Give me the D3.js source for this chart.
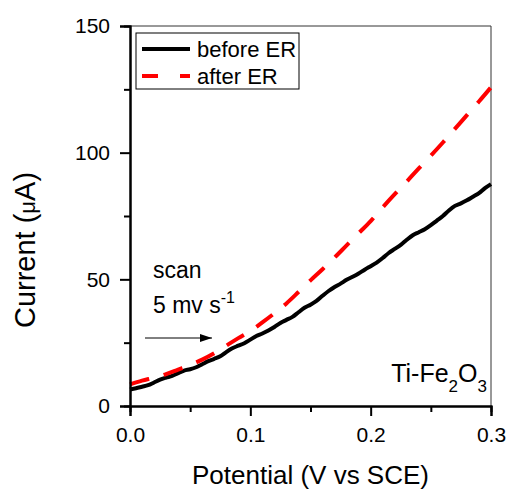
<!DOCTYPE html>
<html lang="en">
<head>
    <meta charset="UTF-8">
    <title>Current vs Potential</title>
    <script src="https://d3js.org/d3.v7.min.js"></script>
    <style>
        body {
            margin: 0;
            padding: 0;
            background-color: #fff;
            overflow: hidden;
        }
        svg text {
            font-family: 'Liberation Sans', Arial, Helvetica, sans-serif;
            fill: #000;
        }
        .tick text {
            font-size: 21px;
        }
    </style>
</head>
<body>
    <div id="chart"></div>

    <script>
        // --- Data ---
        const potentialBefore = [
            0.000, 0.005, 0.010, 0.015, 0.020, 0.025, 0.030, 0.035, 0.040, 0.045,
            0.050, 0.055, 0.060, 0.065, 0.070, 0.075, 0.080, 0.085, 0.090, 0.095,
            0.100, 0.105, 0.110, 0.115, 0.120, 0.125, 0.130, 0.135, 0.140, 0.145,
            0.150, 0.155, 0.160, 0.165, 0.170, 0.175, 0.180, 0.185, 0.190, 0.195,
            0.200, 0.205, 0.210, 0.215, 0.220, 0.225, 0.230, 0.235, 0.240, 0.245,
            0.250, 0.255, 0.260, 0.265, 0.270, 0.275, 0.280, 0.285, 0.290, 0.295,
            0.300
        ];
        const currentBefore = [
            6.5, 7.0, 7.6, 8.2, 9.3, 10.4, 11.2, 11.9, 13.0, 14.0,
            14.5, 15.3, 16.5, 17.7, 18.6, 19.6, 21.3, 22.8, 23.8, 24.8,
            26.2, 27.6, 28.6, 29.8, 31.2, 32.8, 34.0, 35.2, 37.0, 38.8,
            40.0, 41.5, 43.5, 45.4, 47.0, 48.3, 49.8, 51.0, 52.3, 53.8,
            55.2, 56.6, 58.4, 60.4, 62.0, 63.6, 65.6, 67.4, 68.6, 69.8,
            71.4, 73.2, 75.0, 77.2, 79.0, 80.0, 81.2, 82.6, 84.0, 86.0,
            87.6
        ];
        const potentialAfter = [
            0.00, 0.01, 0.02, 0.03, 0.04, 0.05, 0.06, 0.07, 0.08, 0.09,
            0.10, 0.11, 0.12, 0.13, 0.14, 0.15, 0.16, 0.17, 0.18, 0.19,
            0.20, 0.21, 0.22, 0.23, 0.24, 0.25, 0.26, 0.27, 0.28, 0.29,
            0.30
        ];
        const currentAfter = [
            8.5, 10.0, 11.2, 12.6, 14.4, 16.2, 18.3, 20.8, 23.8, 26.8,
            29.6, 33.0, 36.6, 40.5, 45.0, 49.6, 54.0, 58.6, 63.4, 68.2,
            73.0, 78.4, 83.6, 88.6, 93.8, 98.8, 104.0, 109.4, 114.8, 120.2,
            125.8
        ];

        const xMajorTicks = [0.0, 0.1, 0.2, 0.3];
        const xMinorTicks = [0.05, 0.15, 0.25];
        const yMajorTicks = [0, 50, 100, 150];
        const yMinorTicks = [25, 75, 125];

        const seriesNames = ["before ER", "after ER"];
        const seriesColors = ["#000000", "#ff0000"];

        // --- Layout ---
        const width = 509;
        const height = 492;
        const margin = { top: 26, right: 18, bottom: 86, left: 130 };
        const innerW = width - margin.left - margin.right;
        const innerH = height - margin.top - margin.bottom;

        const svg = d3.select("#chart").append("svg")
            .attr("width", width)
            .attr("height", height);

        const g = svg.append("g")
            .attr("transform", `translate(${margin.left},${margin.top})`);

        const x = d3.scaleLinear().domain([0, 0.3]).range([0, innerW]);
        const y = d3.scaleLinear().domain([0, 150]).range([innerH, 0]);

        // frame (top and right, thin)
        g.append("path")
            .attr("d", `M0,0H${innerW}V${innerH}`)
            .attr("fill", "none")
            .attr("stroke", "#333")
            .attr("stroke-width", 1);

        // --- Curves ---
        const line = d3.line()
            .x(d => x(d[0]))
            .y(d => y(d[1]))
            .curve(d3.curveMonotoneX);

        const before = potentialBefore.map((v, i) => [v, currentBefore[i]]);
        const after = potentialAfter.map((v, i) => [v, currentAfter[i]]);

        g.append("path")
            .datum(before)
            .attr("fill", "none")
            .attr("stroke", seriesColors[0])
            .attr("stroke-width", 4)
            .attr("stroke-linejoin", "round")
            .attr("d", line);

        g.append("path")
            .datum(after)
            .attr("fill", "none")
            .attr("stroke", seriesColors[1])
            .attr("stroke-width", 4)
            .attr("stroke-dasharray", "20,15")
            .attr("d", line);

        // --- Axes ---
        g.append("g")
            .attr("transform", `translate(0,${innerH})`)
            .call(d3.axisBottom(x).tickValues(xMajorTicks).tickSize(10).tickPadding(11)
                .tickFormat(d3.format(".1f")));
        g.append("g")
            .attr("transform", `translate(0,${innerH})`)
            .call(d3.axisBottom(x).tickValues(xMinorTicks).tickSize(6).tickFormat(""));

        g.append("g")
            .call(d3.axisLeft(y).tickValues(yMajorTicks).tickSize(10).tickPadding(10));
        g.append("g")
            .call(d3.axisLeft(y).tickValues(yMinorTicks).tickSize(6).tickFormat(""));

        g.selectAll(".domain")
            .attr("stroke", "#000")
            .attr("stroke-width", 2);
        g.selectAll(".tick line")
            .attr("stroke", "#000")
            .attr("stroke-width", 2);
        g.selectAll(".tick text").attr("fill", "#000");

        // --- Axis titles ---
        svg.append("text")
            .attr("x", margin.left + innerW / 2)
            .attr("y", 484)
            .attr("text-anchor", "middle")
            .style("font-size", "26px")
            .text("Potential (V vs SCE)");

        const yTitle = svg.append("text")
            .attr("transform", `translate(35,250) rotate(-90)`)
            .attr("text-anchor", "middle")
            .style("font-size", "29px");
        yTitle.append("tspan").text("Current (");
        yTitle.append("tspan").style("font-size", "22px").text("\u03bc");
        yTitle.append("tspan").text("A)");

        // --- Legend ---
        const legend = svg.append("g");
        legend.append("rect")
            .attr("x", 136).attr("y", 33)
            .attr("width", 163).attr("height", 56)
            .attr("fill", "#fff")
            .attr("stroke", "#000")
            .attr("stroke-width", 1);

        seriesNames.forEach((name, i) => {
            const ly = 49 + i * 27;
            legend.append("line")
                .attr("x1", 142).attr("x2", 190)
                .attr("y1", ly).attr("y2", ly)
                .attr("stroke", seriesColors[i])
                .attr("stroke-width", 4)
                .attr("stroke-dasharray", i === 1 ? "16,22" : null);
            legend.append("text")
                .attr("x", 197).attr("y", ly + 8)
                .style("font-size", "22px")
                .text(name);
        });

        // --- Annotations ---
        svg.append("text")
            .attr("x", 153).attr("y", 278)
            .style("font-size", "23px")
            .text("scan");

        const rate = svg.append("text")
            .attr("x", 153).attr("y", 313)
            .style("font-size", "23px");
        rate.append("tspan").text("5 mv s");
        rate.append("tspan").attr("dy", -10).style("font-size", "16px").text("-1");

        svg.append("defs").append("marker")
            .attr("id", "arrowhead")
            .attr("viewBox", "0 0 12 8")
            .attr("refX", 12).attr("refY", 4)
            .attr("markerWidth", 12).attr("markerHeight", 8)
            .attr("markerUnits", "userSpaceOnUse")
            .attr("orient", "auto")
            .append("path")
            .attr("d", "M0,0L12,4L0,8Z")
            .attr("fill", "#000");

        svg.append("line")
            .attr("x1", 145).attr("x2", 212)
            .attr("y1", 338).attr("y2", 338)
            .attr("stroke", "#000")
            .attr("stroke-width", 1)
            .attr("marker-end", "url(#arrowhead)");

        const sample = svg.append("text")
            .attr("x", 487).attr("y", 382)
            .attr("text-anchor", "end")
            .style("font-size", "25px");
        sample.append("tspan").text("Ti-Fe");
        sample.append("tspan").attr("dy", 10).style("font-size", "17px").text("2");
        sample.append("tspan").attr("dy", -10).text("O");
        sample.append("tspan").attr("dy", 10).style("font-size", "17px").text("3");
    </script>
</body>
</html>
